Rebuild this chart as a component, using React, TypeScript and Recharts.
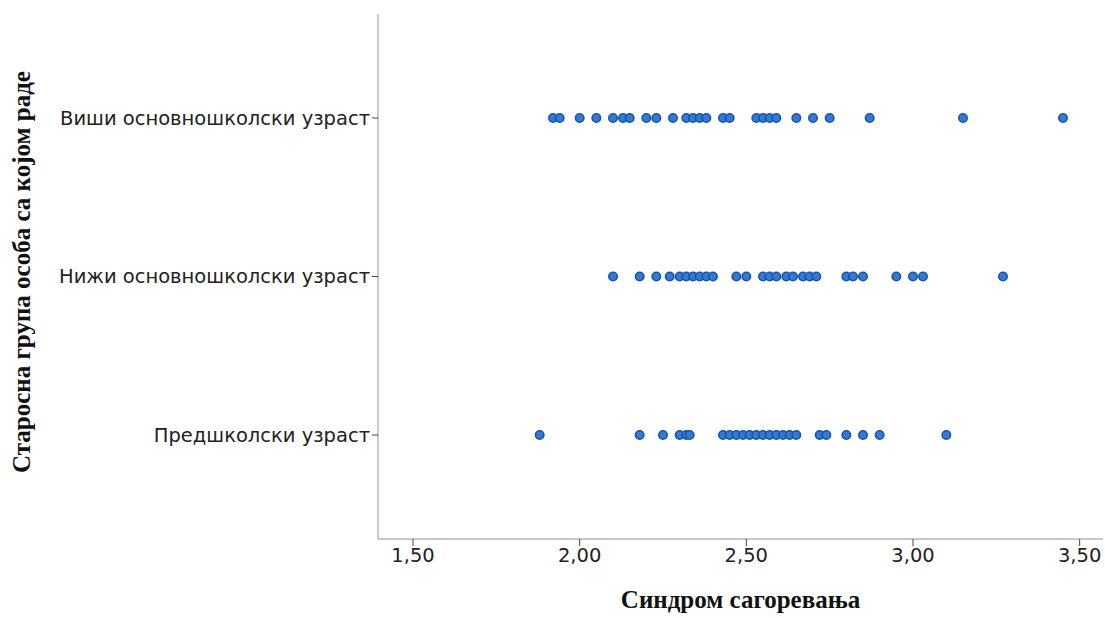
import { Label, Scatter, ScatterChart, XAxis, YAxis } from "recharts";

const groups = ["Предшколски узраст", "Нижи основношколски узраст", "Виши основношколски узраст"];
const xTicks = [1.5, 2.0, 2.5, 3.0, 3.5];

const preschool = [
  1.88, 2.18, 2.25, 2.3, 2.32, 2.33, 2.43, 2.45, 2.47, 2.49, 2.51, 2.53, 2.55, 2.57, 2.59, 2.61, 2.63, 2.65,
  2.72, 2.74, 2.8, 2.85, 2.9, 3.1,
];
const lowerPrimary = [
  2.1, 2.18, 2.23, 2.27, 2.3, 2.32, 2.34, 2.36, 2.38, 2.4, 2.47, 2.5, 2.55, 2.57, 2.59, 2.62, 2.64, 2.67, 2.69,
  2.71, 2.8, 2.82, 2.85, 2.95, 3.0, 3.03, 3.27,
];
const upperPrimary = [
  1.92, 1.94, 2.0, 2.05, 2.1, 2.13, 2.15, 2.2, 2.23, 2.28, 2.32, 2.34, 2.36, 2.38, 2.43, 2.45, 2.53, 2.55, 2.57,
  2.59, 2.65, 2.7, 2.75, 2.87, 3.15, 3.45,
];

const points = [preschool, lowerPrimary, upperPrimary].flatMap((vals, i) => vals.map((x) => ({ x, y: i + 1 })));

const dot = (p: any) => <circle cx={p.cx} cy={p.cy} r={4.2} fill="#3479d2" stroke="#1655a8" strokeWidth={1.6} />;

const tickFont = { fontFamily: "DejaVu Sans", fontSize: 19.5, fill: "#222" };
const titleStyle = { fontFamily: "Liberation Serif", fontWeight: "bold", fontSize: 25, fill: "#111" };

export default function App() {
  return (
    <div style={{ position: "absolute", left: 0, top: 0, background: "#fff" }}>
      <ScatterChart width={1105} height={618} margin={{ top: 14, right: 2, bottom: 0, left: 0 }}>
        <XAxis
          type="number"
          dataKey="x"
          domain={[1.395, 3.57]}
          ticks={xTicks}
          allowDataOverflow
          tickFormatter={(v: number) => v.toFixed(2).replace(".", ",")}
          height={79}
          tick={tickFont}
          tickSize={7}
          tickLine={{ stroke: "#444" }}
          axisLine={{ stroke: "#c8c8c8", strokeWidth: 2 }}
        >
          <Label value="Синдром сагоревања" position="insideBottom" offset={10} style={titleStyle} />
        </XAxis>
        <YAxis
          type="number"
          dataKey="y"
          domain={[0.344, 3.656]}
          ticks={[1, 2, 3]}
          allowDataOverflow
          tickFormatter={(v: number) => groups[v - 1]}
          width={378}
          tick={tickFont}
          tickSize={6}
          tickLine={{ stroke: "#444" }}
          axisLine={{ stroke: "#c8c8c8", strokeWidth: 2 }}
        >
          <Label
            content={() => (
              <text transform="translate(30, 272) rotate(-90)" textAnchor="middle" style={titleStyle}>
                Старосна група особа са којом раде
              </text>
            )}
          />
        </YAxis>
        <Scatter data={points} shape={dot} isAnimationActive={false} />
      </ScatterChart>
    </div>
  );
}
